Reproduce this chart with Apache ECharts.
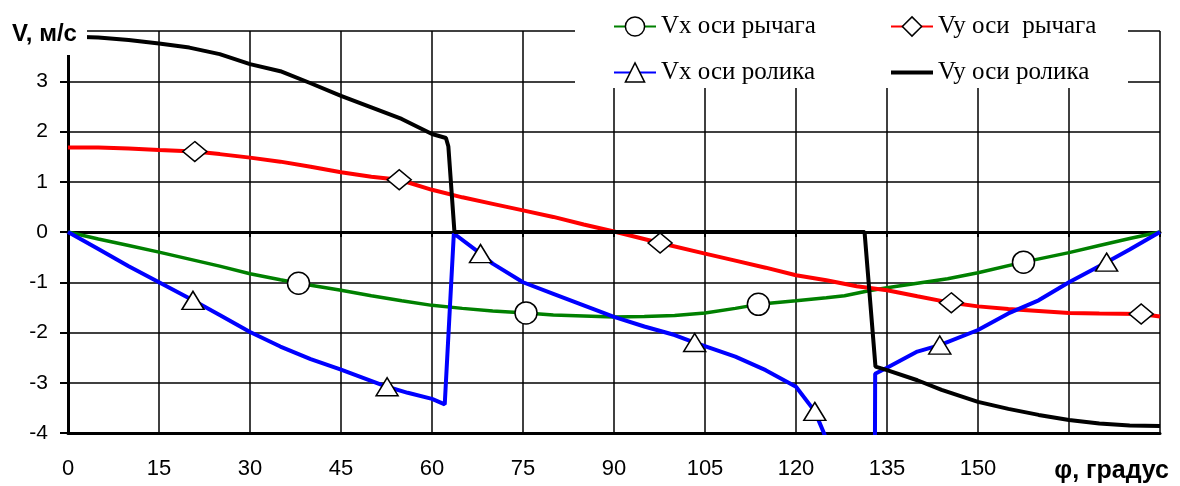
<!DOCTYPE html>
<html>
<head>
<meta charset="utf-8">
<script src="https://cdn.jsdelivr.net/npm/echarts@6/dist/echarts.min.js"></script>
<style>html,body{margin:0;padding:0;background:#fff;}#c{width:1180px;height:486px;}</style>
</head>
<body>
<div id="c"></div>
<script>
// ---- data (phi in degrees, V in m/s) ----
const xTicksMax = 180;
const xHiddenTicks = [165, 180];
const yLabelTitle = 'V, м/с';
const xLabelTitle = 'φ, градус';

const nameVxLever = 'Vx оси рычага';
const nameVyLever = 'Vy оси  рычага';
const nameVxRoller = 'Vx оси ролика';
const nameVyRoller = 'Vy оси ролика';

const phiVxLever = [0,5,10,15,20,25,30,35,38,45,50,55,60,65,70,75.5,80,85,90,95,100,105,110,113.8,120,125,128,132,135,140,145,150,157.5,165,170,175,180];
const vVxLever   = [0,-0.14,-0.27,-0.40,-0.54,-0.68,-0.83,-0.95,-1.02,-1.16,-1.27,-1.37,-1.46,-1.52,-1.57,-1.61,-1.65,-1.67,-1.69,-1.68,-1.66,-1.61,-1.52,-1.44,-1.37,-1.31,-1.27,-1.17,-1.11,-1.02,-0.93,-0.81,-0.60,-0.41,-0.27,-0.13,0];
const markVxLever = [38,75.5,113.8,157.5];

const phiVyLever = [0,5,10,15,20.9,25,30,35,40,45,50,54.6,60,65,70,75,80,85,90,97.6,105,110,115,120,125,130,135,140,145.6,150,155,160,165,170,176.9,180];
const vVyLever   = [1.68,1.68,1.66,1.63,1.60,1.55,1.48,1.40,1.30,1.19,1.10,1.04,0.84,0.69,0.56,0.43,0.30,0.15,0.01,-0.22,-0.43,-0.57,-0.71,-0.86,-0.96,-1.08,-1.16,-1.28,-1.41,-1.48,-1.53,-1.57,-1.61,-1.62,-1.63,-1.68];
const markVyLever = [20.9,54.6,97.6,145.6,176.9];

const phiVxRoller = [0,5,10,15,20.6,25,30,35,40,45,52.6,56,60,62.1,63.6,68,70,75,80,85,90,95,100,103.3,110,115,120,123.1,124.6,125.5,129,133,133.05,135,140,143.7,150,155,160,165,171.2,175,180];
const vVxRoller   = [0,-0.34,-0.68,-1.0,-1.36,-1.65,-1.99,-2.28,-2.53,-2.74,-3.08,-3.2,-3.32,-3.43,-0.03,-0.43,-0.63,-1.0,-1.23,-1.46,-1.69,-1.88,-2.05,-2.2,-2.48,-2.75,-3.08,-3.57,-4.0,-4.3,null,-4.5,-2.82,-2.7,-2.38,-2.25,-1.95,-1.62,-1.36,-1.0,-0.6,-0.35,0];
const markVxRoller = [20.6,52.6,68,103.3,123.1,143.7,171.2];

const phiVyRoller = [0,5,10,15,20,25,30,35,40,45,50,55,60,62.3,62.7,63.7,70,80,90,100,110,120,131.3,133.1,135,140,144,150,155,160,165,170,175,180];
const vVyRoller   = [3.89,3.87,3.82,3.75,3.67,3.54,3.34,3.2,2.96,2.71,2.48,2.25,1.95,1.87,1.7,0,0,0,0,0,0,0,0,-2.68,-2.75,-2.95,-3.14,-3.38,-3.52,-3.64,-3.74,-3.81,-3.85,-3.86];
const markVyRoller = [];

function makeData(phi, v, marks) {
  return phi.map((p, i) => marks.indexOf(p) >= 0
    ? { value: [p, v[i]] }
    : { value: [p, v[i]], symbol: 'none' });
}

const chart = echarts.init(document.getElementById('c'), null, { renderer: 'canvas' });
const markerStyle = { color: '#fff', borderColor: '#000', borderWidth: 1.5 };
const sans = '"Liberation Sans", Arial, sans-serif';
const serif = '"Liberation Serif", "Times New Roman", serif';
const legendText = { fontFamily: serif, fontSize: 25, color: '#000' };

chart.setOption({
  animation: false,
  backgroundColor: '#fff',
  grid: { left: 68, right: 20, top: 31, bottom: 53, containLabel: false },
  xAxis: [{
    type: 'value', min: 0, max: xTicksMax, interval: 15, position: 'bottom',
    axisLine: { onZero: false, lineStyle: { color: '#000', width: 3 } },
    axisTick: { show: false },
    axisLabel: { color: '#000', fontSize: 22, fontFamily: sans, margin: 25,
      formatter: v => xHiddenTicks.indexOf(v) >= 0 ? '' : String(v) },
    splitLine: { show: true, lineStyle: { color: '#000', width: 1.5 } }
  }, {
    type: 'value', min: 0, max: xTicksMax, interval: 15, position: 'bottom',
    axisLine: { onZero: true, lineStyle: { color: '#000', width: 3 } },
    axisTick: { show: true, inside: false, length: 5, lineStyle: { color: '#000', width: 2 } },
    axisLabel: { show: false },
    splitLine: { show: false }
  }],
  yAxis: {
    type: 'value', min: -4, max: 4, interval: 1,
    axisLine: { show: true, onZero: false, lineStyle: { color: '#000', width: 3 } },
    axisTick: { show: true, length: 8, lineStyle: { color: '#000', width: 2 } },
    axisLabel: { color: '#000', fontSize: 21, fontFamily: sans, margin: 20,
      formatter: v => v === 4 ? '' : String(v) },
    splitLine: { show: true, lineStyle: { color: '#000', width: 1.5 } }
  },
  legend: [{
    data: [nameVxLever, nameVxRoller], orient: 'vertical', left: 608, top: 9,
    itemWidth: 42, itemHeight: 24, itemGap: 21, z: 200,
    itemStyle: markerStyle, textStyle: legendText
  }, {
    data: [nameVyLever, { name: nameVyRoller, icon: 'path://M0,0H42V4H0Z', itemStyle: { color: '#000', borderWidth: 0 } }],
    orient: 'vertical', left: 885, top: 9,
    itemWidth: 42, itemHeight: 24, itemGap: 21, z: 200,
    itemStyle: markerStyle, textStyle: legendText
  }],
  graphic: [
    { type: 'rect', shape: { x: 575, y: 0, width: 553, height: 88 }, style: { fill: '#fff' }, z: 100 },
    { type: 'rect', shape: { x: 0, y: 18, width: 87, height: 37 }, style: { fill: '#fff' }, z: 100 },
    { type: 'text', left: 12, top: 22, z: 101,
      style: { text: yLabelTitle, font: 'bold 24px ' + sans, fill: '#000' } },
    { type: 'text', right: 11, top: 459, z: 101,
      style: { text: xLabelTitle, font: 'bold 25px ' + sans, fill: '#000' } }
  ],
  series: [{
    name: nameVxLever, type: 'line', xAxisIndex: 0,
    data: makeData(phiVxLever, vVxLever, markVxLever),
    symbol: 'circle', symbolSize: 22,
    lineStyle: { color: '#008000', width: 3.5 }, itemStyle: markerStyle, z: 3
  }, {
    name: nameVyLever, type: 'line', xAxisIndex: 0,
    data: makeData(phiVyLever, vVyLever, markVyLever),
    symbol: 'diamond', symbolSize: [24, 20],
    lineStyle: { color: '#ff0000', width: 4 }, itemStyle: markerStyle, z: 3
  }, {
    name: nameVxRoller, type: 'line', xAxisIndex: 0,
    data: makeData(phiVxRoller, vVxRoller, markVxRoller),
    symbol: 'triangle', symbolSize: [22, 18], connectNulls: false,
    lineStyle: { color: '#0000ff', width: 4 }, itemStyle: markerStyle, z: 3
  }, {
    name: nameVyRoller, type: 'line', xAxisIndex: 0,
    data: makeData(phiVyRoller, vVyRoller, markVyRoller),
    symbol: 'none',
    lineStyle: { color: '#000', width: 4 }, itemStyle: markerStyle, z: 4
  }]
});
</script>
</body>
</html>
